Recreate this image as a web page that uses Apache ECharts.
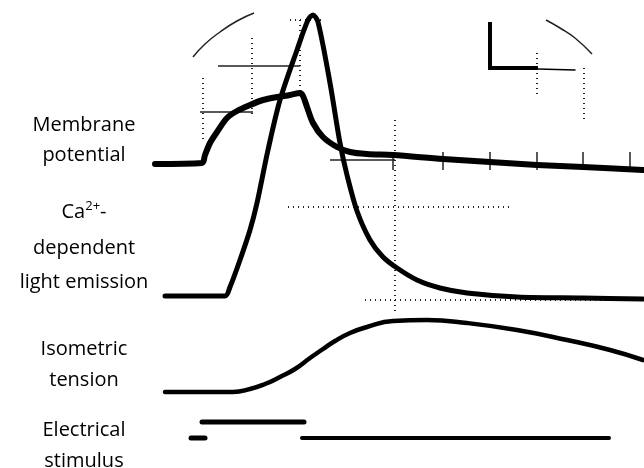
<!DOCTYPE html>
<html><head><meta charset="utf-8">
<script src="https://cdn.jsdelivr.net/npm/echarts@6/dist/echarts.min.js"></script>
<style>html,body{margin:0;padding:0;background:#fff}#c{width:644px;height:468px}</style>
</head><body><div id="c"></div>
<script>
// Traces: [time (screen units), deflection (screen units, downward)]
const membranePotential = [[155,164],[202,163],[205,155],[210,143],[217,132],[227,118],[237,111],[250,105],[263,100],[277,97],[290,95],[300,93],[303,96],[307,107],[313,123],[323,137],[337,147],[350,152],[367,154],[393,155],[443,159],[490,162],[537,165],[583,167],[643,170]];
const lightEmission = [[165,296],[225,296],[230,287],[240,260],[250,230],[257,203],[268,150],[280,100],[297,50],[308,20],[313,15],[318,22],[330,83],[340,143],[347,175],[357,211],[370,240],[383,257],[397,268],[417,280],[440,288],[467,293],[517,297],[583,298],[643,299]];
const isometricTension = [[165,392],[233,392],[250,389],[265,384],[280,377],[295,369],[310,358],[323,349],[335,341],[350,333],[367,327],[393,321],[427,320],[467,323],[517,330],[567,340],[610,350],[643,360]];
const stimulusUpper = [[202,422],[304,422]];
const stimulusLowerShort = [[191,438],[205,438]];
const stimulusLowerLong = [[302,438],[609,438]];
const calibrationL = [[490,22],[490,68],[538,68]];
const calibrationTail = [[538,69],[575,70]];
const arcLeft = [[193,57],[205,44],[220,32],[237,21],[254,13]];
const arcRight = [[546,20],[560,28],[575,38],[592,54]];
const labelLines = ["Membrane", "potential", "{n|Ca}{s|2+}{n|-}", "dependent", "light emission", "Isometric", "tension", "Electrical", "stimulus"];

// graticule pieces (dotted / thin reference marks)
const graticuleDotted = [
  [[395,120],[395,312]], [[288,207],[510,207]], [[203,78],[203,142]], [[252,38],[252,115]],
  [[300,20],[300,95]], [[537,53],[537,98]], [[584,68],[584,122]], [[290,20],[323,20]],
  [[365,300],[640,300]]
];
const graticuleSolid = [[[218,66],[300,66]], [[200,112],[253,112]], [[330,160],[395,160]]];
const tickMarksX = [393,443,490,537,583,630];

const chart = echarts.init(document.getElementById('c'), null, {renderer:'canvas'});
const series = [];
function line(data, w, opts) {
  series.push(Object.assign({type:'line', data:data, symbol:'none', smooth:0.3, silent:true,
    lineStyle:{color:'#000', width:w, cap:'round', join:'round'}}, opts||{}));
}
graticuleDotted.forEach(d => line(d, 2, {smooth:false, lineStyle:{color:'#222', width:2, type:[1,4]}}));
graticuleSolid.forEach(d => line(d, 1.5, {smooth:false, lineStyle:{color:'#222', width:1.5}}));
tickMarksX.forEach(x => line([[x,152],[x,170]], 1.5, {smooth:false, lineStyle:{color:'#222', width:1.5}}));
line(arcLeft, 1.5, {smooth:0.5, lineStyle:{color:'#222', width:1.5}});
line(arcRight, 1.5, {smooth:0.5, lineStyle:{color:'#222', width:1.5}});
line(calibrationL, 4, {smooth:false, lineStyle:{color:'#000', width:4, join:'miter', cap:'butt'}});
line(calibrationTail, 1.5, {smooth:false});
line(membranePotential, 6);
line(lightEmission, 5);
line(isometricTension, 4.5, {smooth:0.5});
line(stimulusUpper, 5, {smooth:false});
line(stimulusLowerShort, 5, {smooth:false});
line(stimulusLowerLong, 4, {smooth:false});

const labelY = [125, 155, 212, 248, 282, 349, 380, 430, 461];
const rich = {n:{fontSize:20, fontFamily:'Open Sans', color:'#000'}, s:{fontSize:13, fontFamily:'Open Sans', color:'#000', verticalAlign:'bottom', padding:[0,0,12,0]}};
chart.setOption({
  animation:false,
  grid:{left:0,right:0,top:0,bottom:0},
  xAxis:{type:'value', min:0, max:644, show:false},
  yAxis:{type:'value', min:0, max:468, inverse:true, show:false},
  series: series,
  graphic: labelLines.map((t,i) => ({type:'text', x:84, y:labelY[i],
    style:{text:t, rich:rich, font:'20px "Open Sans"', fill:'#000', align:'center', verticalAlign:'middle'}}))
});
</script></body></html>
